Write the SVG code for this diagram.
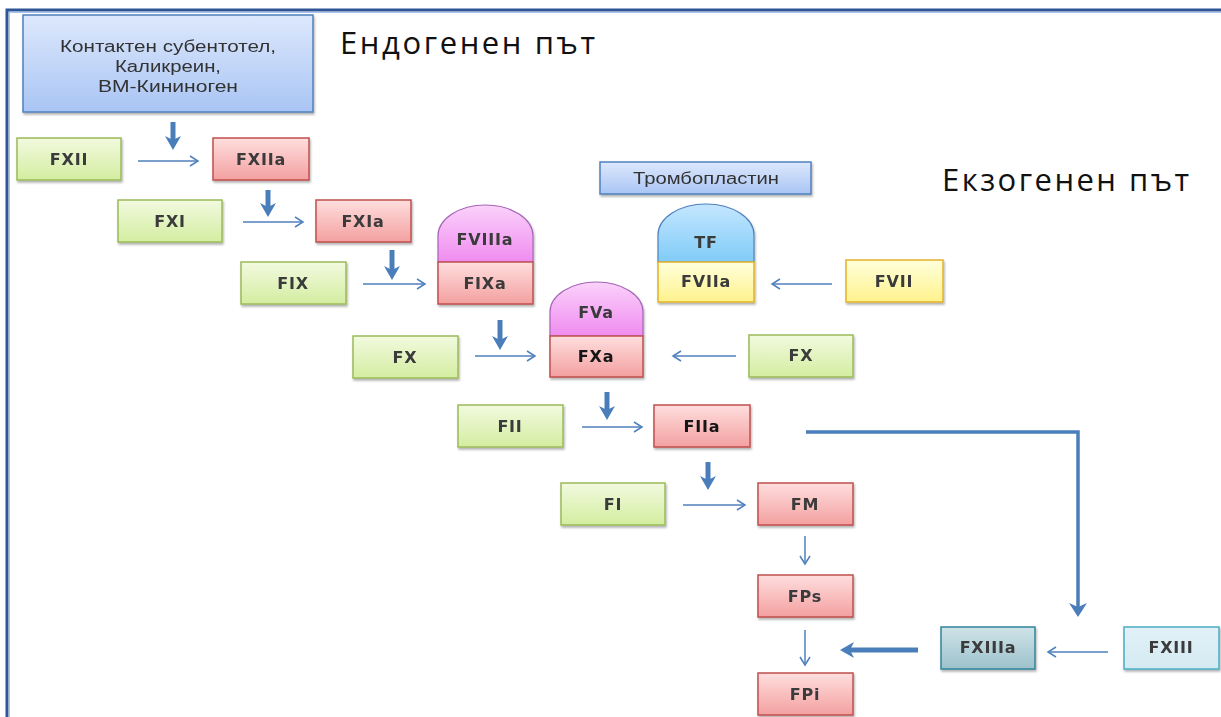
<svg xmlns="http://www.w3.org/2000/svg" width="1221" height="717" viewBox="0 0 1221 717">
<defs>
  <linearGradient id="gGreen" x1="0" y1="0" x2="0" y2="1"><stop offset="0" stop-color="#F2FADF"/><stop offset="1" stop-color="#D3EDA0"/></linearGradient>
  <linearGradient id="gRed" x1="0" y1="0" x2="0" y2="1"><stop offset="0" stop-color="#FFDEDE"/><stop offset="1" stop-color="#F3A0A0"/></linearGradient>
  <linearGradient id="gPink" x1="0" y1="0" x2="0" y2="1"><stop offset="0" stop-color="#FAD2FA"/><stop offset="1" stop-color="#F08CF0"/></linearGradient>
  <linearGradient id="gSky" x1="0" y1="0" x2="0" y2="1"><stop offset="0" stop-color="#C4E6FF"/><stop offset="1" stop-color="#80CCF8"/></linearGradient>
  <linearGradient id="gYellow" x1="0" y1="0" x2="0" y2="1"><stop offset="0" stop-color="#FFFFDC"/><stop offset="1" stop-color="#FFF28C"/></linearGradient>
  <linearGradient id="gBlue" x1="0" y1="0" x2="0" y2="1"><stop offset="0" stop-color="#DDE8FC"/><stop offset="1" stop-color="#A9C5F4"/></linearGradient>
  <linearGradient id="gTeal" x1="0" y1="0" x2="0" y2="1"><stop offset="0" stop-color="#CFE3E8"/><stop offset="1" stop-color="#9DC2CC"/></linearGradient>
  <linearGradient id="gIce" x1="0" y1="0" x2="0" y2="1"><stop offset="0" stop-color="#E2F1F7"/><stop offset="1" stop-color="#D4EAF2"/></linearGradient>
  <filter id="sh" x="-10%" y="-10%" width="120%" height="130%"><feDropShadow dx="1" dy="2" stdDeviation="1.2" flood-color="#000" flood-opacity="0.3"/></filter>
  <marker id="open" markerUnits="userSpaceOnUse" markerWidth="12" markerHeight="12" refX="10" refY="6" orient="auto"><path d="M2,1 L10,6 L2,11" fill="none" stroke="#4F81BD" stroke-width="1.5"/></marker>
  <marker id="solid" markerUnits="userSpaceOnUse" markerWidth="16" markerHeight="18" refX="4" refY="9" orient="auto"><path d="M0,1 L14,9 L0,17 L4,9 Z" fill="#4A7EBB"/></marker>
  <marker id="solidL" markerUnits="userSpaceOnUse" markerWidth="16" markerHeight="20" refX="4" refY="10" orient="auto"><path d="M0,1 L14,10 L0,19 L4,10 Z" fill="#4A7EBB"/></marker>
</defs>
<style>
  .lbl{font-family:"DejaVu Sans",Verdana,sans-serif;font-weight:700;font-size:16px;letter-spacing:0.8px;fill:#3a3a3a;text-anchor:middle}
  .b{fill:#151515}
  .sm{font-family:"Liberation Sans",Arial,sans-serif;font-size:16px;fill:#333;text-anchor:middle}
  .title{font-family:"Open Sans","DejaVu Sans",sans-serif;font-size:31px;fill:#111}
  .green{fill:url(#gGreen);stroke:#9BBB59;stroke-width:1.5}
  .red{fill:url(#gRed);stroke:#C0504D;stroke-width:1.5}
  .pink{fill:url(#gPink);stroke:#A665B8;stroke-width:1.2}
  .sky{fill:url(#gSky);stroke:#4F81BD;stroke-width:1.2}
  .yellow{fill:url(#gYellow);stroke:#E3B22A;stroke-width:1.5}
  .blue{fill:url(#gBlue);stroke:#4F81BD;stroke-width:1.5}
  .teal{fill:url(#gTeal);stroke:#31859C;stroke-width:1.5}
  .ice{fill:url(#gIce);stroke:#4BACC6;stroke-width:1.5}
  .thin{stroke:#4F81BD;stroke-width:1.5;fill:none;marker-end:url(#open)}
  .thick{stroke:#4A7EBB;stroke-width:5;fill:none;marker-end:url(#solid)}
  .big{stroke:#4A7EBB;stroke-width:3.5;fill:none;marker-end:url(#solidL)}
</style>
<rect width="1221" height="717" fill="#fff"/>
<rect x="7" y="10" width="1300" height="800" fill="none" stroke="#2E5597" stroke-width="3"/>
<rect x="9.5" y="12.5" width="1300" height="800" fill="none" stroke="#A9C4EC" stroke-width="1"/>

<g id="titles">
  <text class="title" x="340" y="54" textLength="255" lengthAdjust="spacing">Ендогенен път</text>
  <text class="title" x="942" y="191" textLength="247" lengthAdjust="spacing">Екзогенен път</text>
</g>

<g id="source" filter="url(#sh)">
  <rect class="blue" x="23" y="15" width="290" height="97"/>
  <text class="sm" x="168" y="52" textLength="216" lengthAdjust="spacingAndGlyphs">Контактен субентотел,</text>
  <text class="sm" x="168" y="72" textLength="106" lengthAdjust="spacingAndGlyphs">Каликреин,</text>
  <text class="sm" x="168" y="92" textLength="140" lengthAdjust="spacingAndGlyphs">ВМ-Кининоген</text>
</g>

<g id="FXII" filter="url(#sh)"><rect class="green" x="17" y="138" width="104" height="42"/><text class="lbl" x="69" y="165">FXII</text></g>
<g id="FXIIa" filter="url(#sh)"><rect class="red" x="213" y="138" width="96" height="42"/><text class="lbl" x="261" y="165">FXIIa</text></g>
<g id="FXI" filter="url(#sh)"><rect class="green" x="118" y="200" width="104" height="42"/><text class="lbl" x="170" y="227">FXI</text></g>
<g id="FXIa" filter="url(#sh)"><rect class="red" x="316" y="200" width="95" height="42"/><text class="lbl" x="363" y="227">FXIa</text></g>
<g id="FIX" filter="url(#sh)"><rect class="green" x="241" y="262" width="105" height="42"/><text class="lbl" x="293" y="289">FIX</text></g>
<g id="FVIIIa-FIXa" filter="url(#sh)">
  <path class="pink" d="M438,262 V236 A47.5,31 0 0 1 533,236 V262 Z"/>
  <text class="lbl" x="485" y="245">FVIIIa</text>
  <rect class="red" x="438" y="262" width="95" height="42"/>
  <text class="lbl" x="485" y="289">FIXa</text>
</g>
<g id="thromboplastin" filter="url(#sh)"><rect class="blue" x="600" y="162" width="211" height="32"/><text class="sm" x="706" y="184" textLength="146" lengthAdjust="spacingAndGlyphs">Тромбопластин</text></g>
<g id="TF-FVIIa" filter="url(#sh)">
  <path class="sky" d="M658,262 V235 A48,31 0 0 1 754,235 V262 Z"/>
  <text class="lbl" x="706" y="248">TF</text>
  <rect class="yellow" x="658" y="262" width="96" height="40"/>
  <text class="lbl" x="706" y="287">FVIIa</text>
</g>
<g id="FVII" filter="url(#sh)"><rect class="yellow" x="846" y="260" width="97" height="42"/><text class="lbl" x="894" y="287">FVII</text></g>
<g id="FX-left" filter="url(#sh)"><rect class="green" x="353" y="336" width="105" height="42"/><text class="lbl" x="405" y="363">FX</text></g>
<g id="FVa-FXa" filter="url(#sh)">
  <path class="pink" d="M550,336 V312 A46.5,30 0 0 1 643,312 V336 Z"/>
  <text class="lbl" x="596" y="318">FVa</text>
  <rect class="red" x="550" y="336" width="93" height="41"/>
  <text class="lbl b" x="596" y="362">FXa</text>
</g>
<g id="FX-right" filter="url(#sh)"><rect class="green" x="749" y="335" width="104" height="42"/><text class="lbl" x="801" y="361">FX</text></g>
<g id="FII" filter="url(#sh)"><rect class="green" x="458" y="405" width="105" height="42"/><text class="lbl" x="510" y="432">FII</text></g>
<g id="FIIa" filter="url(#sh)"><rect class="red" x="654" y="405" width="96" height="42"/><text class="lbl b" x="702" y="432">FIIa</text></g>
<g id="FI" filter="url(#sh)"><rect class="green" x="561" y="483" width="104" height="42"/><text class="lbl" x="613" y="510">FI</text></g>
<g id="FM" filter="url(#sh)"><rect class="red" x="758" y="483" width="95" height="42"/><text class="lbl" x="805" y="510">FM</text></g>
<g id="FPs" filter="url(#sh)"><rect class="red" x="758" y="575" width="95" height="42"/><text class="lbl" x="805" y="602">FPs</text></g>
<g id="FPi" filter="url(#sh)"><rect class="red" x="758" y="673" width="95" height="42"/><text class="lbl" x="805" y="700">FPi</text></g>
<g id="FXIIIa" filter="url(#sh)"><rect class="teal" x="941" y="627" width="94" height="42"/><text class="lbl" x="988" y="653">FXIIIa</text></g>
<g id="FXIII" filter="url(#sh)"><rect class="ice" x="1124" y="627" width="95" height="42"/><text class="lbl" x="1171" y="653">FXIII</text></g>

<g id="connectors">
  <line class="thick" x1="173" y1="122" x2="173" y2="140"/>
  <line class="thick" x1="268" y1="190" x2="268" y2="207"/>
  <line class="thick" x1="392" y1="250" x2="392" y2="270"/>
  <line class="thick" x1="500" y1="320" x2="500" y2="340"/>
  <line class="thick" x1="607" y1="392" x2="607" y2="410"/>
  <line class="thick" x1="708" y1="462" x2="708" y2="480"/>
  <line class="thin" x1="138" y1="161" x2="198" y2="161"/>
  <line class="thin" x1="243" y1="222" x2="303" y2="222"/>
  <line class="thin" x1="363" y1="284" x2="425" y2="284"/>
  <line class="thin" x1="475" y1="356" x2="535" y2="356"/>
  <line class="thin" x1="582" y1="427" x2="642" y2="427"/>
  <line class="thin" x1="683" y1="505" x2="745" y2="505"/>
  <line class="thin" x1="832" y1="284" x2="772" y2="284"/>
  <line class="thin" x1="736" y1="356" x2="673" y2="356"/>
  <line class="thin" x1="1108" y1="652" x2="1048" y2="652"/>
  <line class="thin" x1="805" y1="536" x2="805" y2="564"/>
  <line class="thin" x1="805" y1="630" x2="805" y2="665"/>
  <path class="big" d="M806,432 H1078 V607"/>
  <line class="thick" x1="918" y1="650" x2="850" y2="650"/>
</g>
</svg>
